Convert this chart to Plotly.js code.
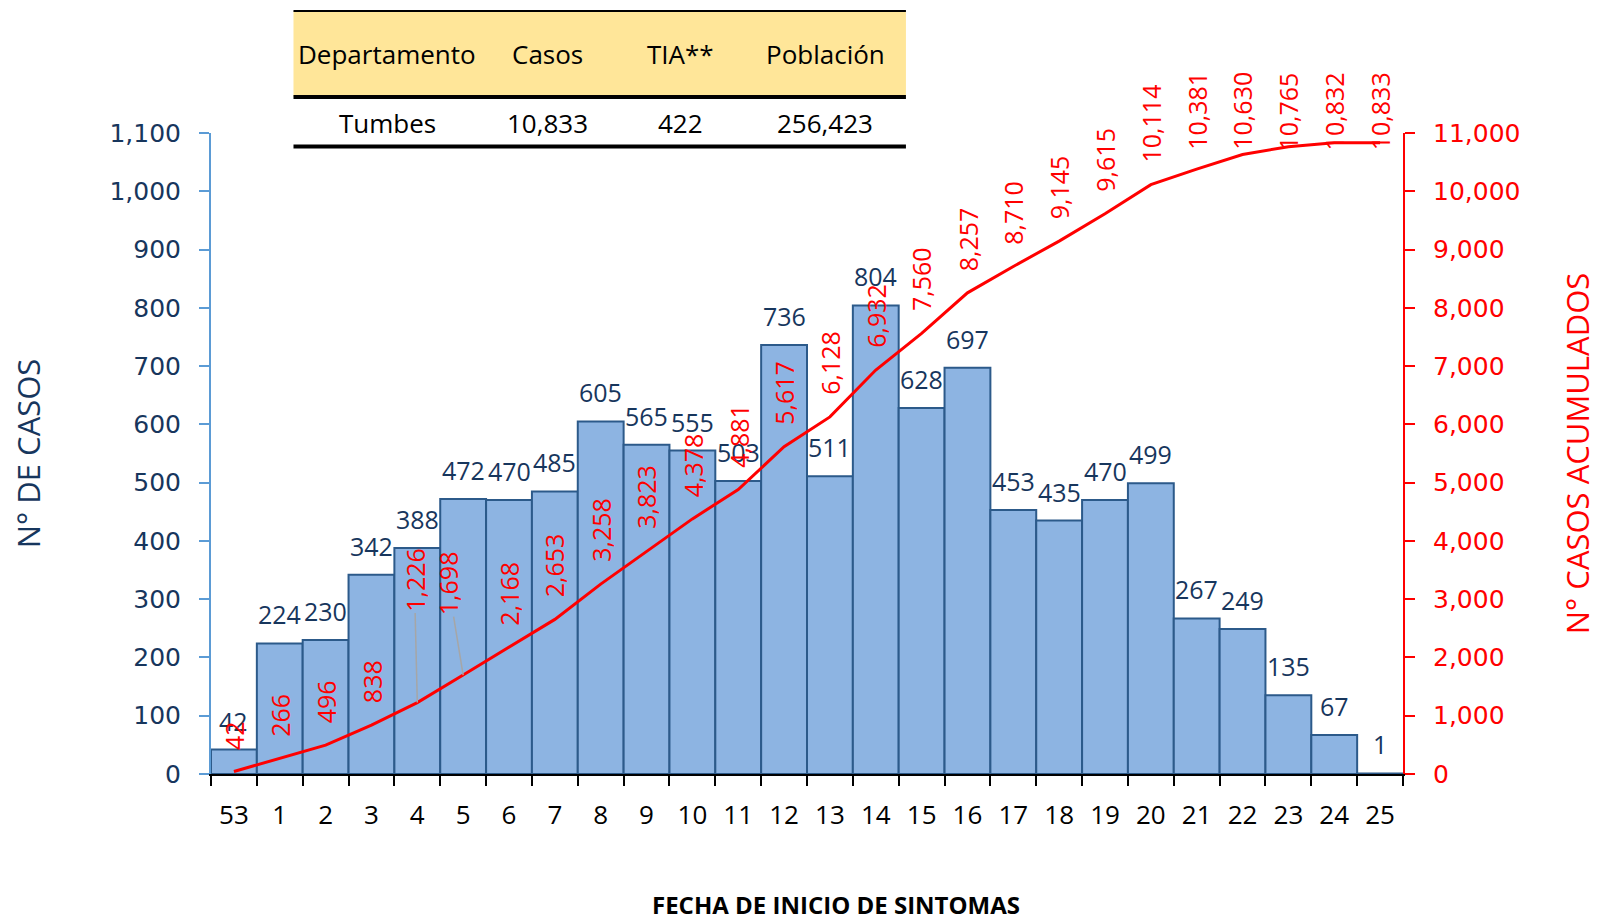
<!DOCTYPE html>
<html><head><meta charset="utf-8">
<script src="https://cdn.plot.ly/plotly-3.0.1.min.js"></script>
<style>html,body{margin:0;padding:0;background:#fff}#chart{width:1598px;height:920px}</style>
</head><body><div id="chart"></div>
<script>
// ---- data ----
const weeks = ['53','1','2','3','4','5','6','7','8','9','10','11','12','13','14','15','16','17','18','19','20','21','22','23','24','25'];
const cases = [42,224,230,342,388,472,470,485,605,565,555,503,736,511,804,628,697,453,435,470,499,267,249,135,67,1];
const cumulative = [42,266,496,838,1226,1698,2168,2653,3258,3823,4378,4881,5617,6128,6932,7560,8257,8710,9145,9615,10114,10381,10630,10765,10832,10833];
const tableHeader = ['Departamento','Casos','TIA**','Población'];
const tableRow = ['Tumbes','10,833','422','256,423'];
const xTitle = 'FECHA DE INICIO DE SINTOMAS';

// ---- styling ----
const NAVY = '#17365D';
const RED = '#FF0000';
const fmt = v => v.toLocaleString('en-US');

const traces = [
  {type:'bar', x: weeks, y: cases, yaxis:'y', name:'Casos',
   marker:{color:'#8DB4E2', line:{color:'#2C5A8A', width:2}}, hoverinfo:'x+y'},
  {type:'scatter', mode:'lines', x: weeks, y: cumulative, yaxis:'y2', name:'Acumulados',
   line:{color:RED, width:3}, hoverinfo:'x+y'}
];

const annotations = [];
// bar value labels (x given as category index)
cases.forEach((v,i)=>{
  annotations.push({xref:'x', yref:'y', x: i, y: v, text: fmt(v), showarrow:false,
    yanchor:'bottom', yshift: 10, font:{family:'Open Sans', size:25, color:NAVY}});
});
// cumulative labels (vertical)
const moved = {4:[-3,-123], 5:[-15,-92]}; // labels moved with leader lines
cumulative.forEach((v,i)=>{
  const base = {text: fmt(v), textangle:-90, font:{family:'Open Sans', size:25, color:RED}, xref:'x', x: i};
  if (moved[i]) {
    annotations.push(Object.assign(base, {yref:'y2', y: v, showarrow:true, ax: moved[i][0], ay: moved[i][1],
      arrowhead:0, arrowwidth:1.5, arrowcolor:'#A6A6A6', standoff:0}));
  } else if (v > 10300) {
    // kept inside the chart area
    annotations.push(Object.assign(base, {yref:'paper', y: 1.098, yanchor:'top', showarrow:false}));
  } else {
    annotations.push(Object.assign(base, {yref:'y2', y: v, yanchor:'bottom', yshift: 20, showarrow:false}));
  }
});
// table text
const colX = [0.1477, 0.2827, 0.3939, 0.5155];
tableHeader.forEach((t,i)=>{
  annotations.push({xref:'paper', yref:'paper', x: colX[i], y: 1.1232, text: t, showarrow:false,
    xanchor:'center', yanchor:'middle', font:{family:'Open Sans', size:26, color:'#000'}});
});
tableRow.forEach((t,i)=>{
  annotations.push({xref:'paper', yref:'paper', x: colX[i], y: 1.0156, text: t, showarrow:false,
    xanchor:'center', yanchor:'middle', font:{family:'Open Sans', size:26, color:'#000'}});
});
// x-axis title (offset to the right as in the reference)
annotations.push({xref:'paper', yref:'paper', x: 0.524, y: -0.203, text: xTitle, showarrow:false,
  xanchor:'center', yanchor:'middle', font:{family:'Open Sans', size:24, color:'#000', weight:'bold'}});

const shapes = [
  {type:'rect', xref:'paper', yref:'paper', x0:0.0692, x1:0.583, y0:1.0562, y1:1.1903, fillcolor:'#FFE699', line:{width:0}, layer:'below'},
  {type:'line', xref:'paper', yref:'paper', x0:0.0692, x1:0.583, y0:1.1903, y1:1.1903, line:{color:'#000', width:2}},
  {type:'line', xref:'paper', yref:'paper', x0:0.0692, x1:0.583, y0:1.0562, y1:1.0562, line:{color:'#000', width:4}},
  {type:'line', xref:'paper', yref:'paper', x0:0.0692, x1:0.583, y0:0.9789, y1:0.9789, line:{color:'#000', width:4}}
];

const layout = {
  width:1598, height:920,
  margin:{l:211, r:195, t:133, b:146},
  paper_bgcolor:'#fff', plot_bgcolor:'rgba(0,0,0,0)',
  showlegend:false, bargap:0,
  xaxis:{type:'category', range:[-0.5, 25.5], autorange:false, tickangle:0, tickson:'boundaries', ticks:'outside', ticklen:10, tickwidth:2, tickcolor:'#000',
    showline:true, linecolor:'#000', linewidth:2, showgrid:false, zeroline:false, ticklabelstandoff:17,
    tickfont:{family:'Open Sans', size:26, color:'#000'}},
  yaxis:{range:[0,1100], autorange:false, dtick:100, tickformat:',d', ticks:'outside', ticklen:10, tickwidth:2, tickcolor:'#5B9BD5',
    showline:true, linecolor:'#5B9BD5', linewidth:2, showgrid:false, zeroline:false, ticklabelstandoff:13,
    tickfont:{family:'DejaVu Sans', size:25, color:NAVY},
    title:{text:'N° DE CASOS', font:{family:'Open Sans', size:31, color:NAVY}, standoff:60}},
  yaxis2:{range:[0,11000], autorange:false, dtick:1000, tickformat:',d', overlaying:'y', side:'right', ticks:'outside', ticklen:10, tickwidth:2,
    tickcolor:RED, showline:true, linecolor:RED, linewidth:2, showgrid:false, zeroline:false, ticklabelstandoff:13,
    tickfont:{family:'DejaVu Sans', size:25, color:RED},
    title:{text:'N° CASOS ACUMULADOS', font:{family:'Open Sans', size:31, color:RED}, standoff:50}},
  annotations: annotations,
  shapes: shapes
};

Plotly.newPlot('chart', traces, layout, {displayModeBar:false, staticPlot:true});
</script></body></html>
